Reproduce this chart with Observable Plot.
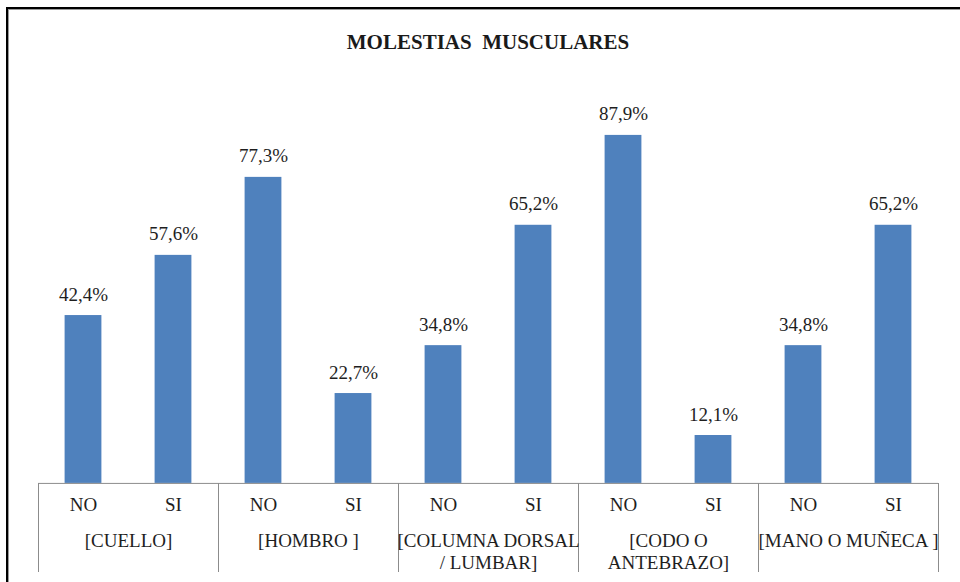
<!DOCTYPE html>
<html>
<head>
<meta charset="utf-8">
<script src="https://cdn.jsdelivr.net/npm/d3@7"></script>
<script src="https://cdn.jsdelivr.net/npm/@observablehq/plot@0.6"></script>
<style>
  html, body { margin: 0; padding: 0; background: #fff; }
  #page { position: relative; width: 960px; height: 582px; overflow: hidden; background: #fff; }
  #border { position: absolute; left: 6px; top: 7px; width: 1200px; height: 1200px;
    border-left: 2px solid #000; border-top: 2px solid #000; box-shadow: inset 1px 1px 0 #9a9a9a; }
  #title { position: absolute; left: 0; width: 976px; top: 28px; text-align: center;
    font-family: 'Liberation Serif'; font-weight: bold; font-size: 21px;
    color: #1a1a1a; white-space: pre; line-height: 28px; }
  #chart { position: absolute; left: 0; top: 70px; }
</style>
</head>
<body>
<div id="page">
  <div id="border"></div>
  <div id="title">MOLESTIAS  MUSCULARES</div>
  <div id="chart"></div>
</div>
<script>
// Data
const groups = ["[CUELLO]", "[HOMBRO ]", "[COLUMNA DORSAL\n/ LUMBAR]", "[CODO O\nANTEBRAZO]", "[MANO O MUÑECA ]"];
const answers = ["NO", "SI"];
const noValues = [42.4, 77.3, 34.8, 87.9, 34.8];
const siValues = [57.6, 22.7, 65.2, 12.1, 65.2];

const table = [];
groups.forEach((g, gi) => {
  answers.forEach((a, ai) => {
    table.push({group: g, answer: a, i: ai, value: ai === 0 ? noValues[gi] : siValues[gi]});
  });
});

const fmt = v => v.toFixed(1).replace(".", ",") + "%";
const yMin = -22.5;
const blue = "#4F81BD";
const gridGray = "#8c8c8c";
const textColor = "#1e1e1e";

const chart = Plot.plot({
  width: 960,
  height: 512,
  marginLeft: 37,
  marginRight: 21,
  marginTop: 17,
  marginBottom: 10,
  style: {fontFamily: "Liberation Serif", fontSize: "19px", color: textColor, background: "transparent"},
  facet: {data: table, x: "group"},
  fx: {domain: groups, padding: 0, axis: null, label: null},
  x: {type: "linear", domain: [0, answers.length], axis: null},
  y: {domain: [yMin, 100], axis: null},
  marks: [
    Plot.rectY(table, {x1: "i", x2: d => d.i + 1, y1: 0, y2: "value", fill: blue, insetLeft: 26.6, insetRight: 26.6}),
    Plot.ruleY([0], {stroke: gridGray, strokeWidth: 1}),
    Plot.ruleX([0, answers.length], {y1: 0, y2: yMin, stroke: gridGray, strokeWidth: 1, shapeRendering: "crispEdges"}),
    Plot.text(table, {x: d => d.i + 0.5, y: "value", text: d => fmt(d.value), lineAnchor: "bottom", dy: -15, fill: textColor}),
    Plot.text(table, {x: d => d.i + 0.5, y: 0, text: "answer", lineAnchor: "top", dy: 14, fill: textColor}),
    Plot.text(table, {filter: d => d.i === 0, y: 0, text: "group", lineAnchor: "top", dy: 48, lineHeight: 1.16, fill: textColor})
  ]
});
document.getElementById("chart").appendChild(chart);
</script>
</body>
</html>
